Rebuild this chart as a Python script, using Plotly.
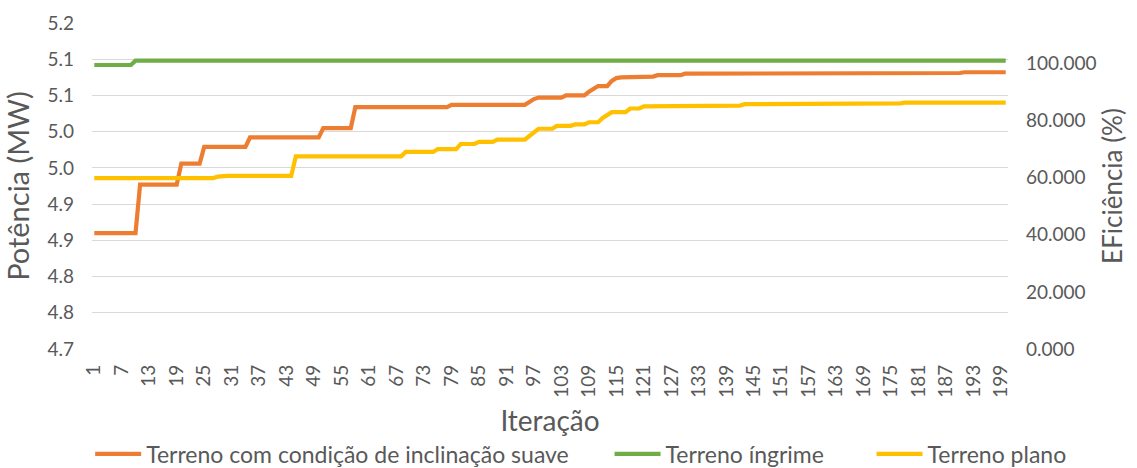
import plotly.graph_objects as go

# Iterations 1..200 (category axis)
iteracao = list(range(1, 201))

# Potência (MW) per iteration for each terrain type
terreno_suave = ([4.860] * 10 + [4.927] * 9 + [4.956] * 5 + [4.979] * 10 +
                 [4.992] * 16 + [5.005] * 7 + [5.034] * 21 + [5.037] * 17 +
                 [5.041] * 1 + [5.045] * 1 + [5.047] * 6 + [5.050] * 5 +
                 [5.055] * 1 + [5.059] * 1 + [5.063] * 3 + [5.070] * 1 +
                 [5.074] * 1 + [5.075] * 4 + [5.076] * 4 + [5.078] * 6 +
                 [5.080] * 10 + [5.081] * 51 + [5.082] * 10)

terreno_ingrime = [5.092] * 9 + [5.098] * 191

terreno_plano = ([4.936] * 27 + [4.938] * 1 + [4.939] * 16 + [4.966] * 24 +
                 [4.972] * 7 + [4.976] * 5 + [4.983] * 4 + [4.986] * 4 +
                 [4.989] * 7 + [4.994] * 1 + [5.000] * 1 + [5.004] * 4 +
                 [5.008] * 4 + [5.010] * 3 + [5.013] * 3 + [5.019] * 1 +
                 [5.023] * 1 + [5.027] * 4 + [5.032] * 3 + [5.035] * 3 +
                 [5.036] * 19 + [5.038] * 4 + [5.039] * 31 + [5.040] * 23)

# Axis ticks
x_tickvals = list(range(1, 201, 6))
y_tickvals = [4.70, 4.75, 4.80, 4.85, 4.90, 4.95, 5.00, 5.05, 5.10, 5.15]
y_ticktext = ["4.7", "4.8", "4.8", "4.9", "4.9", "5.0", "5.0", "5.1", "5.1", "5.2"]
y2_tickvals = [0, 20, 40, 60, 80, 100]
y2_ticktext = ["0.000", "20.000", "40.000", "60.000", "80.000", "100.000"]

FONT = "Lato"
GREY = "#595959"

series = [
    ("Terreno com condição de inclinação suave", terreno_suave, "#ED7D31", "legend", -0.002),
    ("Terreno íngrime", terreno_ingrime, "#70AD47", "legend2", 0.565),
    ("Terreno plano", terreno_plano, "#FFC000", "legend3", 0.851),
]

fig = go.Figure()
for name, vals, color, leg, _ in series:
    fig.add_trace(go.Scatter(
        x=iteracao, y=vals, name=name, mode="lines",
        line=dict(color=color, width=4.2),
        legend=leg,
    ))

legend_common = dict(
    orientation="h", yanchor="middle", xanchor="left", y=-0.322,
    font=dict(family=FONT, size=23, color=GREY),
    bgcolor="rgba(0,0,0,0)", itemwidth=46,
)
legends = {}
for name, vals, color, leg, lx in series:
    legends[leg] = dict(legend_common, x=lx)

fig.update_layout(
    width=1137, height=468,
    margin=dict(l=92, r=129, t=23, b=119, autoexpand=False),
    paper_bgcolor="white", plot_bgcolor="white",
    font=dict(family=FONT, color=GREY),
    showlegend=True,
    **legends,
    xaxis=dict(
        range=[0.5, 200.5], automargin=False,
        tickmode="array", tickvals=x_tickvals,
        ticktext=[str(v) for v in x_tickvals],
        tickangle=-90,
        tickfont=dict(family=FONT, size=19, color=GREY),
        showgrid=False, zeroline=False,
        showline=False, ticks="",
        ticklabelstandoff=11,
        title=dict(text="Iteração", font=dict(family=FONT, size=28, color=GREY),
                   standoff=14),
    ),
    yaxis=dict(
        range=[4.70, 5.15], automargin=False,
        tickmode="array", tickvals=y_tickvals, ticktext=y_ticktext,
        tickfont=dict(family=FONT, size=19, color=GREY),
        showgrid=True, gridcolor="#D9D9D9", gridwidth=1.3,
        zeroline=False, showline=False, ticks="",
        ticklabelstandoff=17,
        title=dict(text="Potência (MW)", font=dict(family=FONT, size=29, color=GREY),
                   standoff=10),
    ),
    yaxis2=dict(
        overlaying="y", side="right", automargin=False,
        range=[0, 114.2],
        tickmode="array", tickvals=y2_tickvals, ticktext=y2_ticktext,
        tickfont=dict(family=FONT, size=19, color=GREY),
        showgrid=False, zeroline=False, showline=False, ticks="",
        ticklabelstandoff=17,
        title=dict(text="EFiciência (%)", font=dict(family=FONT, size=26, color=GREY),
                   standoff=8),
    ),
)

# keep the secondary axis drawn
fig.add_trace(go.Scatter(x=[None], y=[None], yaxis="y2", showlegend=False,
                         hoverinfo="skip"))

fig.write_html("out.html")
